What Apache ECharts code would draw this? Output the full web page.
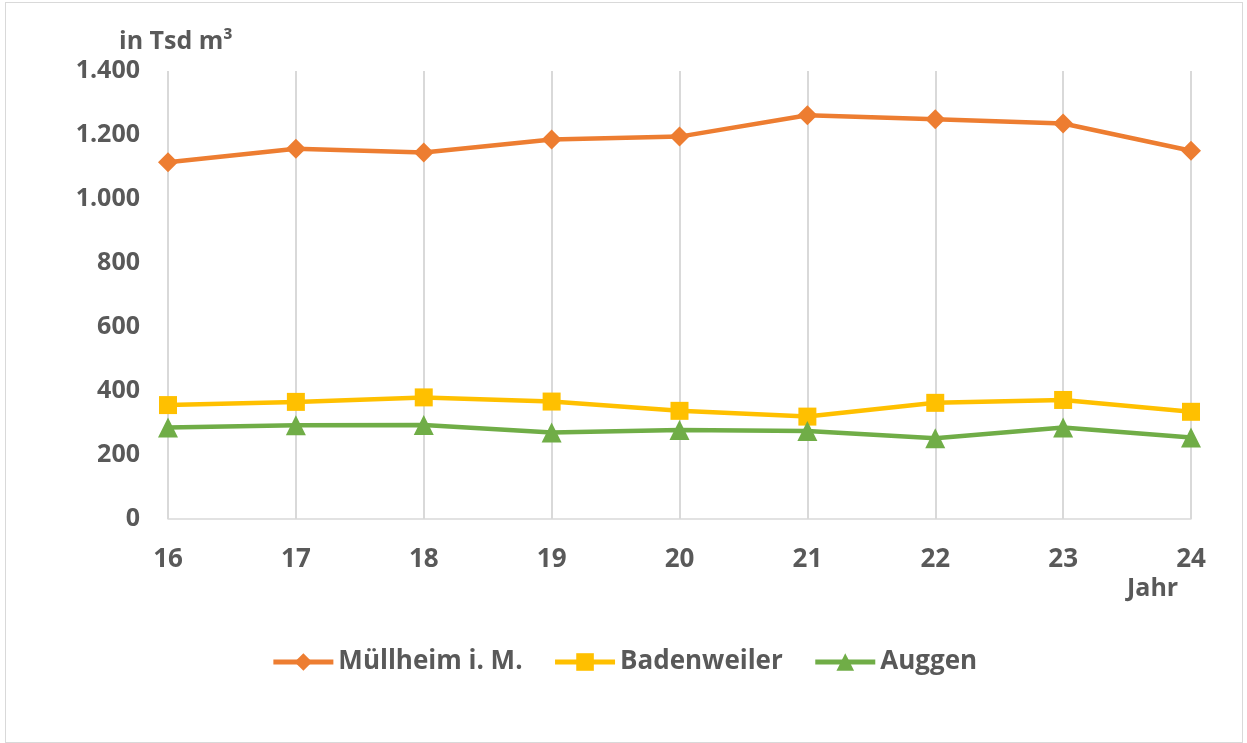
<!DOCTYPE html>
<html lang="de">
<head>
  <meta charset="UTF-8">
  <title>Chart</title>
  <style>
    * { box-sizing: border-box; padding: 0; margin: 0; }
    html, body { width: 100%; height: 100%; background: #fff; }
    #main { position: absolute; left: 5px; top: 2px; width: 1238px; height: 741px; border: 1px solid #d9d9d9; }
  </style>
  <script src="https://cdn.jsdelivr.net/npm/echarts@6/dist/echarts.min.js"></script>
</head>
<body>
  <div id="main"></div>
  <script>
    // Daten
    var jahre = ['16', '17', '18', '19', '20', '21', '22', '23', '24'];
    var muellheim = [1115, 1157, 1145, 1186, 1195, 1262, 1249, 1236, 1151];
    var badenweiler = [356, 366, 380, 367, 338, 320, 363, 372, 335];
    var auggen = [286, 293, 294, 270, 278, 275, 252, 286, 255];

    var grau = '#595959';
    var schrift = '"Open Sans", "DejaVu Sans", sans-serif';

    var myChart = echarts.init(document.getElementById('main'));
    var option = {
      animation: false,
      textStyle: { fontFamily: schrift },
      grid: { left: 162, right: 51, top: 68, bottom: 223 },
      graphic: [
        { type: 'text', left: 113, top: 26, style: { text: 'in Tsd m³', fill: grau, font: 'bold 25px ' + schrift } },
        { type: 'text', left: 1121, top: 573, style: { text: 'Jahr', fill: grau, font: 'bold 25px ' + schrift } }
      ],
      legend: {
        bottom: 62,
        left: 'center',
        itemWidth: 60,
        itemHeight: 22,
        itemGap: 30,
        lineStyle: { width: 5 },
        textStyle: { color: grau, fontSize: 26, fontWeight: 'bold', fontFamily: schrift },
        data: ['Müllheim i. M.', 'Badenweiler', 'Auggen']
      },
      xAxis: {
        type: 'category',
        data: jahre,
        boundaryGap: false,
        axisLine: { lineStyle: { color: '#d9d9d9', width: 1.5 } },
        axisTick: { show: false },
        splitLine: { show: true, lineStyle: { color: '#d9d9d9', width: 2 } },
        axisLabel: { color: grau, fontSize: 26, fontWeight: 'bold', margin: 28, fontFamily: schrift }
      },
      yAxis: {
        type: 'value',
        min: 0,
        max: 1400,
        interval: 200,
        axisLine: { show: false },
        axisTick: { show: false },
        splitLine: { show: false },
        axisLabel: {
          color: grau, fontSize: 25, fontWeight: 'bold', margin: 28, fontFamily: schrift,
          formatter: function (v) { return v.toString().replace(/\B(?=(\d{3})+(?!\d))/g, '.'); }
        }
      },
      series: [
        {
          name: 'Müllheim i. M.', type: 'line', data: muellheim,
          symbol: 'diamond', symbolSize: 20,
          lineStyle: { color: '#ed7d31', width: 4.5 }, itemStyle: { color: '#ed7d31' }
        },
        {
          name: 'Badenweiler', type: 'line', data: badenweiler,
          symbol: 'rect', symbolSize: 18,
          lineStyle: { color: '#ffc000', width: 4.5 }, itemStyle: { color: '#ffc000' }
        },
        {
          name: 'Auggen', type: 'line', data: auggen,
          symbol: 'triangle', symbolSize: 20,
          lineStyle: { color: '#70ad47', width: 4.5 }, itemStyle: { color: '#70ad47' }
        }
      ]
    };
    myChart.setOption(option);
    window.onresize = myChart.resize;
  </script>
</body>
</html>
